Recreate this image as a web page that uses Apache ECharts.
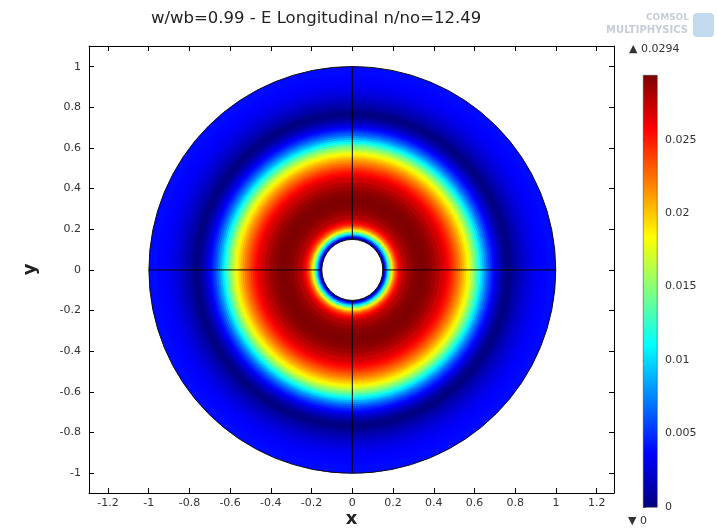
<!DOCTYPE html>
<html>
<head>
<meta charset="utf-8">
<script src="https://cdn.jsdelivr.net/npm/echarts@6/dist/echarts.min.js"></script>
<style>
  html, body { margin: 0; padding: 0; background: #fff; }
  #chart { width: 718px; height: 528px; }
</style>
</head>
<body>
<div id="chart"></div>
<script>
// radial profile: ring edges and the field value in each ring
const ringEdges = [
  0.15, 0.155, 0.16, 0.165, 0.17, 0.175, 0.18, 0.185, 0.19, 0.195, 0.2,
  0.205, 0.21, 0.215, 0.22, 0.225, 0.23, 0.235, 0.24, 0.245, 0.25,
  0.27, 0.29, 0.31, 0.33, 0.35, 0.37, 0.39, 0.41, 0.43, 0.45,
  0.46, 0.47, 0.48, 0.49, 0.5, 0.51, 0.52, 0.53, 0.54, 0.55, 0.56, 0.57,
  0.58, 0.59, 0.6, 0.61, 0.62, 0.63, 0.64, 0.65, 0.66, 0.67, 0.68, 0.69,
  0.7, 0.71, 0.72, 0.73, 0.74, 0.75, 0.76, 0.77, 0.78, 0.79, 0.8,
  0.82, 0.84, 0.86, 0.88, 0.9, 0.92, 0.94, 0.96, 0.98, 1.0
];
const ringValues = [
  0.0008, 0.0025, 0.0045, 0.0068, 0.0092, 0.0114, 0.0135, 0.0155, 0.0173, 0.019,
  0.0205, 0.0218, 0.0229, 0.0239, 0.0247, 0.0254, 0.026, 0.0265, 0.0269, 0.0273,
  0.0279, 0.0286, 0.0291, 0.0293, 0.0294, 0.0293, 0.029, 0.0285, 0.0279, 0.0271,
  0.0266, 0.0261, 0.0255, 0.0249, 0.0243, 0.0236, 0.0229, 0.0222, 0.0214, 0.0206,
  0.0197, 0.0188, 0.0178, 0.0167, 0.0155, 0.0143, 0.013, 0.0116, 0.0102, 0.0089,
  0.0077, 0.0066, 0.0056, 0.0047, 0.0039, 0.0031, 0.0024, 0.0018, 0.0012, 0.0007,
  0.0003, 0.0001, 0.0002, 0.0005, 0.0009,
  0.0013, 0.0019, 0.0024, 0.0028, 0.0032, 0.0035, 0.0037, 0.0038, 0.0039, 0.0039
];
const holeRadius = 0.15;
const outerRadius = 1;
// internal boundaries of the geometry
const domainCuts = [
  [[-1, 0], [-0.15, 0]],
  [[0.15, 0], [1, 0]],
  [[0, -1], [0, -0.15]],
  [[0, 0.15], [0, 1]]
];
const xTicks = [-1.2, -1, -0.8, -0.6, -0.4, -0.2, 0, 0.2, 0.4, 0.6, 0.8, 1, 1.2];
const yTicks = [-1, -0.8, -0.6, -0.4, -0.2, 0, 0.2, 0.4, 0.6, 0.8, 1];
const barTicks = [0, 0.005, 0.01, 0.015, 0.02, 0.025];
const fieldMax = 0.0294;
const jet = ['#00007f', '#0000ff', '#007fff', '#00ffff', '#7fff7f',
  '#ffff00', '#ff7f00', '#ff0000', '#7f0000'];

// outermost ring first, each drawn as a full disc so the next one covers its inside
const rings = ringValues
  .map((v, i) => [ringEdges[i], ringEdges[i + 1], v])
  .reverse();

const chart = echarts.init(document.getElementById("chart"));

const FONT = "DejaVu Sans";
const lbl = { color: "#333", fontSize: 11, fontFamily: FONT };

const radiusPx = (api, r) => {
  const s = api.size([r, r]);
  return (s[0] + s[1]) / 2;
};

// colour bar, same stops the visualMap interpolates between (top = max)
const barStops = jet
  .slice()
  .reverse()
  .map((c, i, a) => ({ offset: i / (a.length - 1), color: c }));

chart.setOption({
  animation: false,
  title: {
    text: "w/wb=0.99 - E Longitudinal n/no=12.49",
    left: 146,
    top: 5,
    textStyle: { fontFamily: FONT, fontSize: 16.5, fontWeight: "normal", color: "#222" }
  },
  grid: [
    { left: 89, right: 104, top: 46, bottom: 35, outerBoundsMode: "none" },
    { left: 643, width: 14, top: 75, height: 432, outerBoundsMode: "none" }
  ],
  xAxis: [
    {
      type: "value", min: -1.293, max: 1.285, position: "bottom",
      name: "x", nameLocation: "middle", nameGap: 17, nameMoveOverlap: false,
      nameTextStyle: { fontFamily: FONT, fontSize: 18, fontWeight: "bold", color: "#222" },
      axisLine: { onZero: false, lineStyle: { color: "#000", width: 1 } },
      axisTick: { inside: true, length: 5, customValues: xTicks, lineStyle: { color: "#000" } },
      axisLabel: Object.assign({ customValues: xTicks, margin: 5, formatter: (v) => String(v) }, lbl),
      splitLine: { show: false }
    },
    {
      type: "value", min: -1.293, max: 1.285, position: "top",
      axisLine: { onZero: false, lineStyle: { color: "#000", width: 1 } },
      axisTick: { inside: true, length: 5, customValues: xTicks, lineStyle: { color: "#000" } },
      axisLabel: { show: false },
      splitLine: { show: false }
    },
    { type: "value", gridIndex: 1, min: 0, max: 1, show: false }
  ],
  yAxis: [
    {
      type: "value", min: -1.098, max: 1.102, position: "left",
      name: "y", nameLocation: "middle", nameGap: 50,
      nameTextStyle: { fontFamily: FONT, fontSize: 18, fontWeight: "bold", color: "#222" },
      axisLine: { onZero: false, lineStyle: { color: "#000", width: 1 } },
      axisTick: { inside: true, length: 5, customValues: yTicks, lineStyle: { color: "#000" } },
      axisLabel: Object.assign({ customValues: yTicks, margin: 8, formatter: (v) => String(v) }, lbl),
      splitLine: { show: false }
    },
    {
      type: "value", min: -1.098, max: 1.102, position: "right",
      axisLine: { onZero: false, lineStyle: { color: "#000", width: 1 } },
      axisTick: { inside: true, length: 5, customValues: yTicks, lineStyle: { color: "#000" } },
      axisLabel: { show: false },
      splitLine: { show: false }
    },
    {
      type: "value", gridIndex: 1, min: 0, max: fieldMax, position: "right",
      axisLine: { show: false },
      axisTick: { show: true, length: 3, customValues: barTicks, lineStyle: { color: "#666" } },
      axisLabel: Object.assign({ customValues: barTicks, margin: 8, formatter: (v) => String(v) }, lbl),
      splitLine: { show: false }
    }
  ],
  visualMap: {
    type: "continuous",
    show: false,
    min: 0, max: fieldMax,
    dimension: 2,
    seriesIndex: 0,
    inRange: { color: jet }
  },
  graphic: [
    {
      type: "rect", left: 643, top: 75, z: 10,
      shape: { width: 14, height: 432 },
      style: {
        fill: { type: "linear", x: 0, y: 0, x2: 0, y2: 1, colorStops: barStops },
        stroke: "#333", lineWidth: 0.5
      }
    },
    { type: "text", left: 629, top: 44, style: { text: "▲ 0.0294", font: "11px DejaVu Sans", fill: "#333" } },
    { type: "text", left: 628, top: 516, style: { text: "▼ 0", font: "11px DejaVu Sans", fill: "#333" } },
    { type: "text", x: 689, y: 13, style: { text: "COMSOL", font: "bold 9px DejaVu Sans", fill: "#c6ced8", align: "right" } },
    { type: "text", x: 688, y: 25, style: { text: "MULTIPHYSICS", font: "bold 10px DejaVu Sans", fill: "#c6ced8", align: "right" } },
    { type: "rect", left: 693, top: 13, shape: { width: 21, height: 24, r: 4 }, style: { fill: "#a9c9e6", opacity: 0.7 } }
  ],
  series: [
    {
      type: "custom",
      coordinateSystem: "cartesian2d",
      xAxisIndex: 0, yAxisIndex: 0,
      encode: { x: 0, y: 1 },
      data: rings,
      silent: true,
      renderItem: (params, api) => {
        const c = api.coord([0, 0]);
        return {
          type: "circle",
          shape: { cx: c[0], cy: c[1], r: radiusPx(api, api.value(1)) },
          style: { fill: api.visual("color") }
        };
      }
    },
    {
      type: "custom",
      coordinateSystem: "cartesian2d",
      xAxisIndex: 0, yAxisIndex: 0,
      data: [[holeRadius], [outerRadius]],
      silent: true,
      renderItem: (params, api) => {
        const c = api.coord([0, 0]);
        return {
          type: "circle",
          shape: { cx: c[0], cy: c[1], r: radiusPx(api, api.value(0)) },
          style: { fill: params.dataIndex === 0 ? "#fff" : null, stroke: "#111", lineWidth: 1 }
        };
      }
    },
    {
      type: "custom",
      coordinateSystem: "cartesian2d",
      xAxisIndex: 0, yAxisIndex: 0,
      data: domainCuts.map((s) => [s[0][0], s[0][1], s[1][0], s[1][1]]),
      silent: true,
      renderItem: (params, api) => {
        const a = api.coord([api.value(0), api.value(1)]);
        const b = api.coord([api.value(2), api.value(3)]);
        return {
          type: "line",
          shape: { x1: a[0], y1: a[1], x2: b[0], y2: b[1] },
          style: { stroke: "#000", lineWidth: 1 }
        };
      }
    }
  ]
});
</script>
</body>
</html>
